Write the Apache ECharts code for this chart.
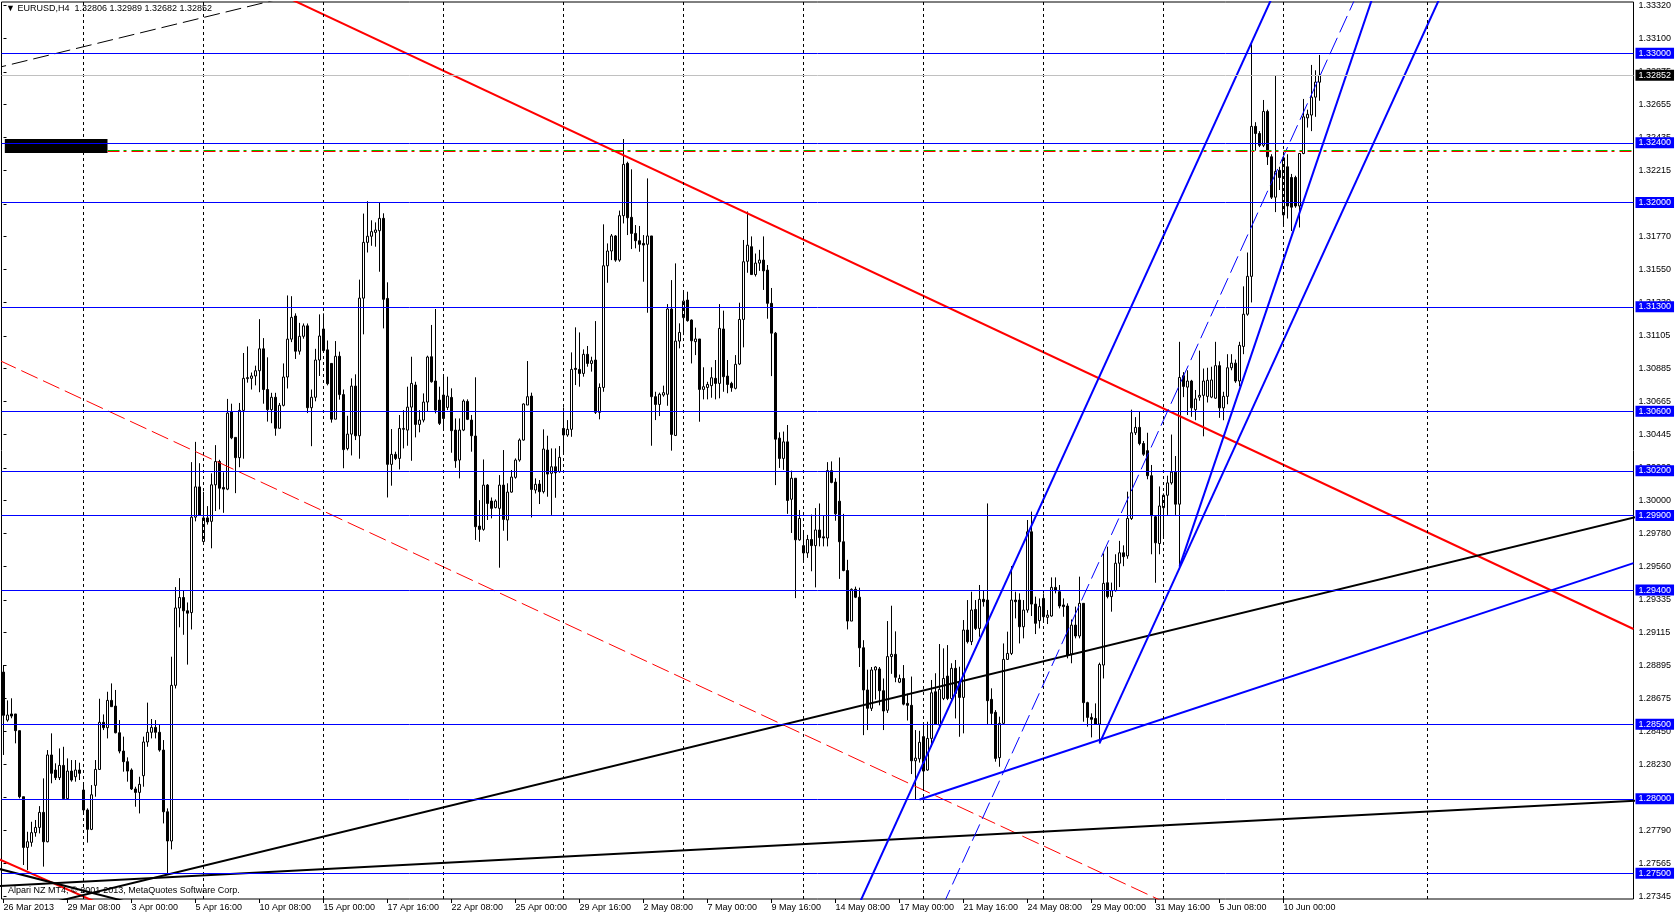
<!DOCTYPE html>
<html><head><meta charset="utf-8">
<script src="https://cdn.jsdelivr.net/npm/echarts@6/dist/echarts.min.js"></script>
<style>html,body{margin:0;padding:0;background:#fff;}#c{width:1676px;height:917px;}</style>
</head><body><div id="c"></div>
<script>
// ---------------- DATA ----------------
const opens = [
1.28850,1.28528,1.28569,1.28569,1.28457,1.28014,1.27674,1.27708,1.27773,1.27808,
1.27909,1.27712,1.28294,1.28193,1.28142,1.28224,1.28001,1.28186,1.28148,1.28193,
1.28059,1.27925,1.27795,1.28090,1.28197,1.28513,1.28477,1.28660,1.28622,1.28443,
1.28320,1.28249,1.28193,1.28066,1.28043,1.28155,1.28381,1.28446,1.28479,1.28446,
1.28327,1.27913,1.27717,1.28761,1.29280,1.29350,1.29261,1.29249,1.29889,1.30092,
1.29726,1.29884,1.29861,1.30106,1.30262,1.30088,1.30077,1.30596,1.30424,1.30288,
1.30605,1.30818,1.30820,1.30836,1.30871,1.31018,1.30745,1.30610,1.30693,1.30485,
1.30639,1.30829,1.31083,1.31238,1.31002,1.31102,1.31172,1.30623,1.30693,1.30943,
1.31151,1.31011,1.30920,1.30546,1.30968,1.30711,1.30349,1.30446,1.30768,1.30435,
1.31358,1.31732,1.31773,1.31799,1.31810,1.31893,1.31356,1.30243,1.30310,1.30283,
1.30478,1.30473,1.30627,1.30775,1.30511,1.30540,1.30661,1.30965,1.30802,1.30674,
1.30708,1.30625,1.30692,1.30473,1.30272,1.30473,1.30665,1.30540,1.30433,1.29829,
1.29807,1.30104,1.29997,1.29953,1.29948,1.30104,1.29870,1.30057,1.30156,1.30272,
1.30406,1.30641,1.30701,1.30071,1.30111,1.30060,1.30339,1.30183,1.30227,1.30194,
1.30484,1.30440,1.30478,1.30887,1.30880,1.30853,1.30981,1.30920,1.30943,1.30592,
1.30759,1.31575,1.31674,1.31775,1.31613,1.31911,1.32262,1.31900,1.31792,1.31743,
1.31725,1.31719,1.31775,1.30697,1.30645,1.30708,1.30713,1.31285,1.30437,1.31070,
1.31227,1.31345,1.31211,1.31066,1.31084,1.30746,1.30759,1.30771,1.30820,1.30786,
1.31151,1.30835,1.30786,1.30753,1.30916,1.31215,1.31605,1.31703,1.31516,1.31593,
1.31613,1.31546,1.31323,1.31123,1.30419,1.30283,1.30394,1.30009,1.30150,1.29737,
1.29698,1.29649,1.29739,1.29698,1.29803,1.29757,1.29749,1.30201,1.30124,1.29996,
1.29724,1.29531,1.29192,1.29405,1.29352,1.29013,1.28730,1.28607,1.28864,1.28871,
1.28725,1.28594,1.28954,1.28969,1.28782,1.28807,1.28640,1.28627,1.28255,1.28268,
1.28417,1.28193,1.28405,1.28718,1.28495,1.28673,1.28823,1.28673,1.28875,1.28779,
1.28680,1.29132,1.29054,1.29270,1.29143,1.29338,1.29333,1.28667,1.28580,1.28276,
1.28506,1.28935,1.28975,1.29333,1.29333,1.29154,1.29266,1.29791,1.29306,1.29195,
1.29344,1.29217,1.29226,1.29418,1.29389,1.29300,1.29293,1.28971,1.29165,1.29092,
1.29311,1.28645,1.28546,1.28539,1.28501,1.28897,1.29449,1.29356,1.29396,1.29580,
1.29650,1.29629,1.29880,1.30455,1.30491,1.30383,1.30335,1.30167,1.29892,1.29712,
1.29952,1.30036,1.30119,1.30191,1.29976,1.30838,1.30761,1.30802,1.30610,1.30694,
1.30706,1.30699,1.30694,1.30687,1.30905,1.30622,1.30699,1.30891,1.30922,1.30802,
1.31034,1.31250,1.31504,1.32510,1.32462,1.32383,1.32610,1.32306,1.32035,1.32215,
1.31916,1.32239,1.32167,1.32167,1.31976,1.32328,1.32567,1.32586,1.32706,1.32806];
const highs = [
1.28897,1.28660,1.28674,1.28569,1.28457,1.28014,1.27779,1.27846,1.27858,1.27951,
1.28137,1.28327,1.28439,1.28238,1.28338,1.28349,1.28271,1.28260,1.28260,1.28242,
1.28104,1.27936,1.28092,1.28260,1.28671,1.28566,1.28718,1.28774,1.28730,1.28528,
1.28417,1.28278,1.28204,1.28081,1.28148,1.28417,1.28645,1.28535,1.28528,1.28495,
1.28394,1.27936,1.28953,1.29420,1.29480,1.29400,1.29317,1.30258,1.30394,1.30251,
1.30059,1.29963,1.30183,1.30372,1.30274,1.30190,1.30682,1.30650,1.30424,1.30655,
1.30990,1.31034,1.30859,1.30905,1.31217,1.31090,1.30961,1.30723,1.30723,1.30655,
1.30920,1.31376,1.31371,1.31256,1.31192,1.31188,1.31188,1.30745,1.31018,1.31249,
1.31256,1.31074,1.30923,1.31070,1.30999,1.30745,1.30569,1.30820,1.30847,1.31482,
1.31925,1.32008,1.31880,1.31866,1.31996,1.31927,1.31464,1.30480,1.30328,1.30574,
1.30607,1.30764,1.30965,1.30797,1.30607,1.30719,1.30972,1.31178,1.31285,1.30764,
1.30842,1.30831,1.30753,1.30551,1.30551,1.30679,1.30679,1.30574,1.30827,1.30003,
1.30276,1.30111,1.30021,1.30008,1.30171,1.30339,1.30116,1.30205,1.30283,1.30417,
1.30652,1.30936,1.30724,1.30149,1.30138,1.30478,1.30435,1.30350,1.30350,1.30366,
1.30625,1.30540,1.30994,1.31162,1.31128,1.31014,1.31037,1.30965,1.31204,1.30786,
1.31853,1.31725,1.31788,1.31781,1.31945,1.32425,1.32273,1.32222,1.31848,1.31842,
1.31781,1.32161,1.31775,1.30730,1.30724,1.30771,1.31318,1.31479,1.31591,1.31189,
1.31401,1.31401,1.31215,1.31160,1.31084,1.30894,1.30797,1.30894,1.30943,1.31318,
1.31274,1.30943,1.30797,1.30976,1.31327,1.31748,1.31939,1.31772,1.31657,1.31682,
1.31772,1.31580,1.31426,1.31131,1.30458,1.30463,1.30507,1.30201,1.30150,1.29937,
1.29796,1.29770,1.29906,1.29950,1.29981,1.29898,1.30258,1.30263,1.30150,1.30289,
1.29911,1.29603,1.29411,1.29423,1.29416,1.29064,1.28866,1.28884,1.28889,1.28884,
1.28807,1.29192,1.29295,1.29123,1.28833,1.28897,1.28705,1.28820,1.28461,1.28456,
1.28512,1.28517,1.28797,1.28842,1.29038,1.29009,1.29031,1.28909,1.28931,1.28886,
1.29199,1.29333,1.29389,1.29333,1.29434,1.29400,1.29981,1.28741,1.28595,1.28551,
1.29042,1.29121,1.29561,1.29389,1.29378,1.29333,1.29870,1.29926,1.29356,1.29344,
1.29378,1.29266,1.29485,1.29485,1.29434,1.29344,1.29311,1.29203,1.29289,1.29490,
1.29311,1.28651,1.28573,1.28640,1.28913,1.29646,1.29691,1.29450,1.29640,1.29730,
1.29700,1.30060,1.30610,1.30560,1.30598,1.30400,1.30455,1.30239,1.29900,1.30095,
1.30048,1.30167,1.30443,1.30299,1.31065,1.30862,1.30874,1.30810,1.30742,1.31006,
1.30886,1.30891,1.30898,1.31065,1.30934,1.30730,1.30982,1.30982,1.30946,1.31065,
1.31437,1.31664,1.33061,1.32538,1.32478,1.32687,1.32622,1.32323,1.32850,1.32239,
1.32311,1.32323,1.32191,1.32179,1.32328,1.32694,1.32622,1.32922,1.32886,1.32989];
const lows = [
1.28294,1.28517,1.28540,1.28372,1.28003,1.27556,1.27522,1.27679,1.27746,1.27768,
1.27545,1.27708,1.28104,1.28126,1.28126,1.27996,1.27996,1.28115,1.28115,1.28126,
1.27902,1.27706,1.27790,1.28014,1.28193,1.28461,1.28405,1.28618,1.28439,1.28305,
1.28182,1.28115,1.28059,1.27947,1.27902,1.28081,1.28349,1.28405,1.28405,1.28316,
1.27835,1.27500,1.27661,1.28740,1.29150,1.29100,1.28900,1.29136,1.29861,1.29902,
1.29707,1.29839,1.29680,1.29930,1.29941,1.29918,1.30070,1.30412,1.30050,1.30224,
1.30281,1.30791,1.30745,1.30773,1.30727,1.30650,1.30530,1.30519,1.30435,1.30485,
1.30632,1.30752,1.31063,1.30950,1.30979,1.31086,1.30587,1.30365,1.30666,1.30836,
1.30999,1.30773,1.30523,1.30546,1.30677,1.30217,1.30337,1.30303,1.30406,1.30281,
1.31115,1.31664,1.31709,1.31703,1.31535,1.31155,1.30021,1.30100,1.30272,1.30209,
1.30350,1.30368,1.30267,1.30424,1.30458,1.30525,1.30596,1.30791,1.30585,1.30507,
1.30473,1.30607,1.30321,1.30220,1.30149,1.30466,1.30540,1.30328,1.29736,1.29724,
1.29798,1.29870,1.29881,1.29948,1.29550,1.29798,1.29731,1.30053,1.30147,1.30261,
1.30402,1.30641,1.29887,1.30048,1.29977,1.30048,1.30026,1.29904,1.30019,1.30187,
1.30310,1.30428,1.30428,1.30775,1.30764,1.30831,1.30898,1.30865,1.30581,1.30545,
1.30730,1.31461,1.31613,1.31602,1.31602,1.31859,1.31781,1.31687,1.31692,1.31669,
1.31468,1.31260,1.30368,1.30540,1.30567,1.30697,1.30636,1.30335,1.30433,1.31021,
1.31110,1.31200,1.30920,1.30976,1.30529,1.30679,1.30679,1.30690,1.30679,1.30686,
1.30730,1.30720,1.30730,1.30746,1.30909,1.31028,1.31528,1.31516,1.31503,1.31541,
1.31413,1.31220,1.30835,1.30104,1.30219,1.30206,1.29911,1.29783,1.29346,1.29731,
1.29590,1.29616,1.29526,1.29418,1.29693,1.29693,1.29693,1.30116,1.29865,1.29475,
1.29526,1.29136,1.29192,1.29346,1.28884,1.28427,1.28461,1.28589,1.28666,1.28627,
1.28461,1.28576,1.28838,1.28782,1.28776,1.28627,1.28525,1.28166,1.27996,1.28243,
1.28063,1.28188,1.28349,1.28495,1.28479,1.28662,1.28662,1.28662,1.28539,1.28416,
1.28439,1.29042,1.29031,1.29132,1.29087,1.29289,1.28495,1.28495,1.28249,1.28215,
1.28495,1.28931,1.28964,1.29210,1.29042,1.29076,1.29248,1.29226,1.29105,1.29143,
1.29199,1.29172,1.29221,1.29378,1.29277,1.29221,1.28942,1.28909,1.29076,1.29076,
1.28517,1.28484,1.28412,1.28495,1.28372,1.28807,1.29344,1.29255,1.29390,1.29420,
1.29560,1.29610,1.29870,1.30440,1.30371,1.30300,1.30143,1.29640,1.29449,1.29640,
1.29760,1.29904,1.30107,1.29904,1.29557,1.30694,1.30574,1.30562,1.30539,1.30670,
1.30431,1.30658,1.30687,1.30682,1.30555,1.30539,1.30646,1.30874,1.30790,1.30766,
1.30982,1.31240,1.31329,1.32347,1.32371,1.32371,1.32251,1.32023,1.31935,1.32083,
1.31844,1.31892,1.31808,1.31964,1.31832,1.32323,1.32502,1.32478,1.32574,1.32682];
const closes = [
1.28560,1.28562,1.28555,1.28457,1.28014,1.27674,1.27712,1.27773,1.27808,1.27909,
1.27712,1.28294,1.28171,1.28142,1.28224,1.28001,1.28186,1.28126,1.28193,1.28171,
1.27925,1.27795,1.28027,1.28197,1.28513,1.28477,1.28660,1.28618,1.28443,1.28320,
1.28249,1.28186,1.28066,1.28043,1.28097,1.28381,1.28446,1.28479,1.28446,1.28327,
1.27913,1.27717,1.28761,1.29280,1.29350,1.29261,1.29245,1.29889,1.30092,1.29902,
1.29884,1.29857,1.30106,1.30262,1.30083,1.30077,1.30587,1.30421,1.30288,1.30605,
1.30820,1.30825,1.30836,1.30871,1.31018,1.30745,1.30610,1.30693,1.30485,1.30639,
1.30829,1.31083,1.31229,1.31002,1.31102,1.31172,1.30623,1.30693,1.30943,1.31104,
1.31006,1.30784,1.30546,1.30968,1.30711,1.30342,1.30446,1.30768,1.30435,1.31358,
1.31732,1.31773,1.31804,1.31815,1.31893,1.31350,1.30243,1.30310,1.30283,1.30484,
1.30484,1.30627,1.30786,1.30511,1.30540,1.30661,1.30963,1.30797,1.30607,1.30518,
1.30551,1.30701,1.30469,1.30267,1.30473,1.30668,1.30545,1.30435,1.29825,1.29807,
1.30104,1.29981,1.29948,1.29997,1.30104,1.29874,1.30057,1.30158,1.30272,1.30406,
1.30648,1.30697,1.30075,1.30109,1.30060,1.30346,1.30178,1.30227,1.30187,1.30290,
1.30440,1.30478,1.30880,1.30880,1.30853,1.30981,1.30920,1.30938,1.30592,1.30759,
1.31575,1.31674,1.31775,1.31613,1.31911,1.32255,1.31897,1.31792,1.31743,1.31719,
1.31714,1.31775,1.30697,1.30645,1.30713,1.30724,1.31285,1.30444,1.31070,1.31128,
1.31338,1.31207,1.31072,1.31084,1.30746,1.30764,1.30779,1.30824,1.30786,1.31155,
1.30831,1.30779,1.30757,1.30914,1.31215,1.31602,1.31713,1.31516,1.31593,1.31613,
1.31541,1.31323,1.31123,1.30412,1.30283,1.30394,1.30001,1.30150,1.29737,1.29880,
1.29649,1.29739,1.29698,1.29803,1.29752,1.29749,1.30201,1.30122,1.29911,1.29724,
1.29531,1.29192,1.29405,1.29352,1.29013,1.28730,1.28607,1.28864,1.28884,1.28725,
1.28589,1.28954,1.28969,1.28815,1.28807,1.28635,1.28627,1.28255,1.28273,1.28379,
1.28186,1.28405,1.28711,1.28501,1.28734,1.28807,1.28673,1.28875,1.28707,1.28680,
1.29132,1.29054,1.29266,1.29143,1.29338,1.29322,1.28658,1.28573,1.28271,1.28506,
1.28935,1.28975,1.29333,1.29322,1.29154,1.29266,1.29791,1.29306,1.29177,1.29289,
1.29221,1.29232,1.29418,1.29396,1.29293,1.29289,1.28964,1.29165,1.29092,1.29311,
1.28645,1.28546,1.28533,1.28501,1.28901,1.29445,1.29356,1.29396,1.29580,1.29650,
1.29624,1.29880,1.30455,1.30491,1.30383,1.30311,1.30167,1.29899,1.29717,1.29964,
1.30036,1.30119,1.30191,1.29976,1.30826,1.30766,1.30802,1.30622,1.30682,1.30706,
1.30802,1.30807,1.30809,1.30905,1.30622,1.30699,1.30891,1.30922,1.30802,1.31041,
1.31250,1.31504,1.32510,1.32462,1.32383,1.32610,1.32306,1.32035,1.32208,1.32167,
1.32299,1.31976,1.31968,1.31976,1.32328,1.32574,1.32591,1.32706,1.32807,1.32852];

const slotCount = 408;                 // bar slots on the time axis (data + empty future)
const xLabelIdx = [0,16,32,48,64,80,96,112,128,144,160,176,192,208,224,240,256,272,288,304,320];
const xLabels = ["26 Mar 2013","29 Mar 08:00","3 Apr 00:00","5 Apr 16:00","10 Apr 08:00","15 Apr 00:00",
  "17 Apr 16:00","22 Apr 08:00","25 Apr 00:00","29 Apr 16:00","2 May 08:00","7 May 00:00","9 May 16:00",
  "14 May 08:00","17 May 00:00","21 May 16:00","24 May 08:00","29 May 00:00","31 May 16:00","5 Jun 08:00","10 Jun 00:00"];
const gridIdx = [20,50,80,110,140,170,200,230,260,290,320,356];
const yTicks = [1.33320,1.33100,1.32875,1.32655,1.32435,1.32215,1.31990,1.31770,1.31550,1.31330,1.31105,
  1.30885,1.30665,1.30445,1.30220,1.30000,1.29780,1.29560,1.29335,1.29115,1.28895,1.28675,1.28450,1.28230,
  1.28010,1.27790,1.27565,1.27345];
const yMin = 1.273280, yMax = 1.333441;
const blueLevels = [1.33000,1.32400,1.32000,1.31300,1.30600,1.30200,1.29900,1.29400,1.28500,1.28000,1.27500];
const lastPrice = 1.32852;
const dashDotGreen = 1.323481, dashDotRed = 1.323414;
const dashDotFrom = 26;
const blackBox = [[0.33, 1.32425], [26, 1.32331]];
// trend lines: [bar index, price] anchor pairs
const redMain   = [[60, 1.33512], [407.5, 1.29139]];
const redLow    = [[-1, 1.27594], [30, 1.27226]];
const redDash   = [[-1, 1.30940], [300, 1.27185]];
const blackA    = [[-3.25, 1.27203], [424.25, 1.29995]];
const blackB    = [[-3.25, 1.27412], [424.25, 1.28009]];
const blackD    = [[-3.25, 1.27545], [36.75, 1.27268]];
const blackDash = [[-3.25, 1.32892], [74.25, 1.33399]];
const blueBase  = [[229, 1.27995], [407.5, 1.29581]];
const blueL1    = [[208.675, 1.26986], [322.55, 1.33693]];
const blueMid   = [[229.78, 1.26986], [343.43, 1.33693]];
const blueL3    = [[294, 1.29557], [346.3, 1.33693]];
const blueL4    = [[274, 1.28372], [364.55, 1.33693]];

// ---------------- CHART ----------------
const FONT = '"Liberation Sans", Arial, sans-serif';
const labelMap = {};
xLabelIdx.forEach((k, j) => { labelMap[k] = xLabels[j]; });
const showIdx = (idx) => labelMap[idx] !== undefined;
const candleData = opens.map((o, i) => [o, closes[i], Math.min(lows[i], o, closes[i]), Math.max(highs[i], o, closes[i])]);
const cats = Array.from({length: slotCount}, (_, i) => String(i));

function tl(pts, color, width, type, z) {
  return { type: 'line', xAxisIndex: 1, yAxisIndex: 0, data: pts, showSymbol: false, symbol: 'none',
    silent: true, clip: true, z: z || 3, lineStyle: { color, width, type }, animation: false };
}

const chart = echarts.init(document.getElementById('c'), null, { renderer: 'canvas' });
chart.setOption({
  animation: false,
  backgroundColor: '#fff',
  textStyle: { fontFamily: FONT },
  grid: { left: 1.5, right: 42.5, top: 2, bottom: 18, show: true, borderColor: '#000', borderWidth: 1, backgroundColor: '#fff' },
  xAxis: [
    { type: 'category', data: cats, boundaryGap: true, gridIndex: 0,
      axisLine: { show: false },
      axisTick: { show: true, interval: showIdx, alignWithLabel: true, length: 4, lineStyle: { color: '#000' } },
      axisLabel: { interval: showIdx, formatter: (v, idx) => labelMap[idx] || '', align: 'left',
        fontSize: 9, fontFamily: FONT, color: '#000', margin: 4 },
      splitLine: { show: false } },
    { type: 'value', min: -0.5, max: slotCount - 0.5, gridIndex: 0, show: false }
  ],
  yAxis: [{
    type: 'value', position: 'right', min: yMin, max: yMax, scale: true,
    axisLine: { show: false },
    axisTick: { show: true, customValues: yTicks, length: 3, lineStyle: { color: '#000' } },
    axisLabel: { customValues: yTicks, formatter: (v) => Number(v).toFixed(5), fontSize: 9, fontFamily: FONT, color: '#000', margin: 5 },
    splitLine: { show: false }
  }],
  graphic: [
    { type: 'text', left: 6, top: 4, z: 100, style: { text: '\u25BC EURUSD,H4  1.32806 1.32989 1.32682 1.32852', font: '9px ' + FONT, fill: '#000' } },
    { type: 'text', left: 8, top: 886, z: 100, style: { text: 'Alpari NZ MT4, \u00A9 2001-2013, MetaQuotes Software Corp.', font: '9px ' + FONT, fill: '#000' } }
  ],
  series: [
    { type: 'line', xAxisIndex: 1, yAxisIndex: 0, data: [], z: 1, silent: true,
      markLine: { silent: true, symbol: ['none', 'none'], animation: false, precision: 5, label: { show: false },
        lineStyle: { color: '#000', width: 1, type: [3, 3] },
        data: gridIdx.map(i => ({ xAxis: i })) } },
    { type: 'candlestick', xAxisIndex: 0, yAxisIndex: 0, data: candleData, barWidth: 2, z: 2, silent: true,
      itemStyle: { color: '#fff', color0: '#000', borderColor: '#000', borderColor0: '#000', borderColorDoji: '#000', borderWidth: 1 } },
    tl(redMain, '#ff0000', 2, 'solid'),
    tl(redLow, '#ff0000', 2, 'solid'),
    tl(redDash, '#ff0000', 1, [18, 6]),
    tl(blackA, '#000', 2, 'solid'),
    tl(blackB, '#000', 2, 'solid'),
    tl(blackD, '#000', 2, 'solid'),
    tl(blackDash, '#000', 1, [16, 6]),
    tl(blueBase, '#0000ff', 2, 'solid'),
    tl(blueL1, '#0000ff', 2, 'solid'),
    tl(blueMid, '#0000ff', 1, [18, 6]),
    tl(blueL3, '#0000ff', 2, 'solid'),
    tl(blueL4, '#0000ff', 2, 'solid'),
    tl([[dashDotFrom, dashDotRed], [slotCount - 0.5, dashDotRed]], '#ff0000', 1, [12, 4, 3, 5]),
    tl([[dashDotFrom, dashDotGreen], [slotCount - 0.5, dashDotGreen]], '#00c000', 1, [12, 4, 3, 5]),
    { type: 'line', xAxisIndex: 1, yAxisIndex: 0, data: [], z: 4, silent: true,
      markArea: { silent: true, precision: 5, itemStyle: { color: '#000' },
        data: [[{ xAxis: blackBox[0][0], yAxis: blackBox[0][1] }, { xAxis: blackBox[1][0], yAxis: blackBox[1][1] }]] },
      markLine: { silent: true, symbol: ['none', 'none'], animation: false, precision: 5,
        label: { show: true, position: 'end', distance: 2, formatter: (p) => Number(p.value).toFixed(5),
          fontSize: 9, fontFamily: FONT, color: '#fff', backgroundColor: '#0000ff', padding: [1, 3, 0, 3], lineHeight: 10 },
        lineStyle: { color: '#0000ff', width: 1, type: 'solid' },
        data: blueLevels.map(v => ({ yAxis: v })).concat([{ yAxis: lastPrice,
          lineStyle: { color: '#c0c0c0', width: 1, type: 'solid' },
          label: { backgroundColor: '#000', color: '#fff' } }]) } }
  ]
});
</script>
</body></html>
